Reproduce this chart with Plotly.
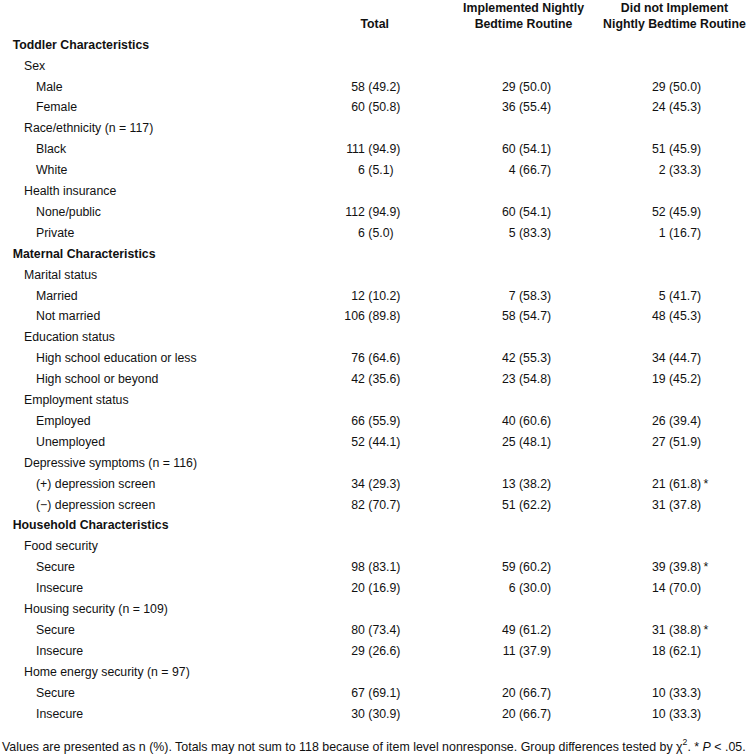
import plotly.graph_objects as go

# ---------------- data ----------------
header_line1 = ["", "Implemented Nightly", "Did not Implement"]
header_line2 = ["Total", "Bedtime Routine", "Nightly Bedtime Routine"]

row_labels = [
    "Toddler Characteristics", "Sex", "Male", "Female",
    "Race/ethnicity (n = 117)", "Black", "White",
    "Health insurance", "None/public", "Private",
    "Maternal Characteristics", "Marital status", "Married", "Not married",
    "Education status", "High school education or less", "High school or beyond",
    "Employment status", "Employed", "Unemployed",
    "Depressive symptoms (n = 116)", "(+) depression screen", "(\u2212) depression screen",
    "Household Characteristics", "Food security", "Secure", "Insecure",
    "Housing security (n = 109)", "Secure", "Insecure",
    "Home energy security (n = 97)", "Secure", "Insecure",
]
row_levels = [0, 1, 2, 2, 1, 2, 2, 1, 2, 2,
              0, 1, 2, 2, 1, 2, 2, 1, 2, 2, 1, 2, 2,
              0, 1, 2, 2, 1, 2, 2, 1, 2, 2]

N = None
total_n   = [N, N, 58, 60, N, 111, 6, N, 112, 6, N, N, 12, 106, N, 76, 42, N, 66, 52, N, 34, 82, N, N, 98, 20, N, 80, 29, N, 67, 30]
total_pct = [N, N, 49.2, 50.8, N, 94.9, 5.1, N, 94.9, 5.0, N, N, 10.2, 89.8, N, 64.6, 35.6, N, 55.9, 44.1, N, 29.3, 70.7, N, N, 83.1, 16.9, N, 73.4, 26.6, N, 69.1, 30.9]
impl_n    = [N, N, 29, 36, N, 60, 4, N, 60, 5, N, N, 7, 58, N, 42, 23, N, 40, 25, N, 13, 51, N, N, 59, 6, N, 49, 11, N, 20, 20]
impl_pct  = [N, N, 50.0, 55.4, N, 54.1, 66.7, N, 54.1, 83.3, N, N, 58.3, 54.7, N, 55.3, 54.8, N, 60.6, 48.1, N, 38.2, 62.2, N, N, 60.2, 30.0, N, 61.2, 37.9, N, 66.7, 66.7]
not_n     = [N, N, 29, 24, N, 51, 2, N, 52, 1, N, N, 5, 48, N, 34, 19, N, 26, 27, N, 21, 31, N, N, 39, 14, N, 31, 18, N, 10, 10]
not_pct   = [N, N, 50.0, 45.3, N, 45.9, 33.3, N, 45.9, 16.7, N, N, 41.7, 45.3, N, 44.7, 45.2, N, 39.4, 51.9, N, 61.8, 37.8, N, N, 39.8, 70.0, N, 38.8, 62.1, N, 33.3, 33.3]
significant = [False] * 33
for i in (21, 25, 28):
    significant[i] = True

footnote = ("Values are presented as n (%). Totals may not sum to 118 because of item level "
            "nonresponse. Group differences tested by \u03c7<sup>2</sup>. * <i>P</i> &lt; .05.")

# ---------------- layout constants ----------------
W, H = 746, 754
FONT = "Liberation Sans Narrow, Arial Narrow, Liberation Sans, Arial, sans-serif"
FS = 12.3
COLOR = "#111111"
row_y0, row_dy = 45.7, 20.9
label_x = [12.7, 24.0, 36.0]
paren_x = [368.3, 519.0, 669.0]
header_x = [374.7, 523.5, 674.5]
gap = 3.4

row_y = [row_y0 + i * row_dy for i in range(len(row_labels))]

fig = go.Figure()

# row labels
for lvl in range(3):
    idx = [i for i, l in enumerate(row_levels) if l == lvl]
    fig.add_trace(go.Scatter(
        x=[label_x[lvl]] * len(idx), y=[row_y[i] for i in idx],
        text=[row_labels[i] for i in idx], mode="text", textposition="middle right",
        textfont=dict(family=FONT, size=FS, color=COLOR, weight="bold" if lvl == 0 else "normal"),
        hoverinfo="skip", showlegend=False))

# value columns
cols = [(total_n, total_pct, False), (impl_n, impl_pct, False), (not_n, not_pct, True)]
for c, (ns, pcts, star) in enumerate(cols):
    idx = [i for i, v in enumerate(ns) if v is not None]
    fig.add_trace(go.Scatter(
        x=[paren_x[c] - gap] * len(idx), y=[row_y[i] for i in idx],
        text=[str(ns[i]) for i in idx], mode="text", textposition="middle left",
        textfont=dict(family=FONT, size=FS, color=COLOR),
        hoverinfo="skip", showlegend=False))
    fig.add_trace(go.Scatter(
        x=[paren_x[c]] * len(idx), y=[row_y[i] for i in idx],
        text=["(%.1f)" % pcts[i] + ("\u2009*" if (star and significant[i]) else "") for i in idx],
        mode="text", textposition="middle right",
        textfont=dict(family=FONT, size=FS, color=COLOR),
        hoverinfo="skip", showlegend=False))

# column headers (two lines)
for line, yy in ((header_line1, 8.9), (header_line2, 24.9)):
    idx = [i for i, t in enumerate(line) if t]
    fig.add_trace(go.Scatter(
        x=[header_x[i] for i in idx], y=[yy] * len(idx), text=[line[i] for i in idx],
        mode="text", textposition="middle center",
        textfont=dict(family=FONT, size=FS, color=COLOR, weight="bold"),
        hoverinfo="skip", showlegend=False))

# footnote
fig.add_trace(go.Scatter(
    x=[2], y=[747.6], text=[footnote], mode="text", textposition="middle right",
    textfont=dict(family=FONT, size=FS + 0.1, color=COLOR),
    hoverinfo="skip", showlegend=False))

fig.update_layout(
    width=W, height=H, margin=dict(l=0, r=0, t=0, b=0),
    paper_bgcolor="white", plot_bgcolor="white",
    xaxis=dict(range=[0, W], visible=False, fixedrange=True),
    yaxis=dict(range=[H, 0], visible=False, fixedrange=True),
)

fig.write_html(
    "out.html",
    config={"displayModeBar": False, "staticPlot": True},
    post_script="document.body.style.margin='0';document.body.style.overflow='hidden';",
)
